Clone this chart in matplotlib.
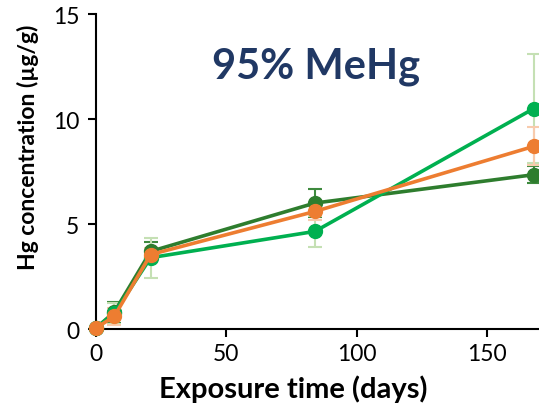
import matplotlib
matplotlib.use("Agg")
import matplotlib.pyplot as plt

plt.rcParams['font.family'] = ['Lato', 'DejaVu Sans']

# sampling days and mean Hg concentrations (ug/g) per treatment
days = [0, 7, 21, 84, 168]
dark_green = [0.05, 0.8, 3.7, 6.0, 7.35]
dark_green_err = [0.0, 0.5, 0.45, 0.67, 0.4]
orange = [0.05, 0.6, 3.55, 5.6, 8.7]
orange_err = [0.0, 0.4, 0.3, 0.4, 0.9]
bright_green = [0.05, 0.75, 3.4, 4.65, 10.5]
bright_green_err = [0.0, 0.5, 0.95, 0.75, 2.6]

series = [
    (dark_green, dark_green_err, '#2E7D2E', '#3E8A3E'),
    (bright_green, bright_green_err, '#00B050', '#C5E0B4'),
    (orange, orange_err, '#ED7D31', '#F8CBAD'),
]

fig = plt.figure(figsize=(5.39, 4.06), dpi=100)
ax = fig.add_axes([0.178, 0.187, 0.822, 0.776])

# error bars first so the lines sit on top
for vals, err, col, ecol in series:
    ax.errorbar(days, vals, yerr=err, fmt='none', ecolor=ecol, elinewidth=1.5,
                capsize=5, capthick=1.5, clip_on=False, zorder=2)
for vals, err, col, ecol in series:
    ax.plot(days, vals, color=col, lw=2.6, marker='o', ms=10, clip_on=False, zorder=3)

ax.set_xlim(0, 170)
ax.set_ylim(0, 15)
ax.set_xticks([0, 50, 100, 150])
ax.set_yticks([0, 5, 10, 15])
ax.spines['top'].set_visible(False)
ax.spines['right'].set_visible(False)
for s in ('left', 'bottom'):
    ax.spines[s].set_linewidth(1.5)
ax.tick_params(axis='both', direction='out', length=6, width=1.5, labelsize=16.5)
ax.tick_params(axis='y', pad=6)
ax.tick_params(axis='x', pad=4)

ax.set_xlabel('Exposure time (days)', fontsize=21, fontweight='bold')
ax.set_ylabel('Hg concentration (µg/g)', fontsize=16.5, fontweight='bold')
ax.xaxis.set_label_coords(0.445, -0.145)
ax.yaxis.set_label_coords(-0.128, 0.58)

ax.text(0.497, 0.835, '95% MeHg', transform=ax.transAxes, ha='center', va='center',
        fontsize=30, fontweight='bold', color='#203864')

fig.savefig('out.png', dpi=100)
